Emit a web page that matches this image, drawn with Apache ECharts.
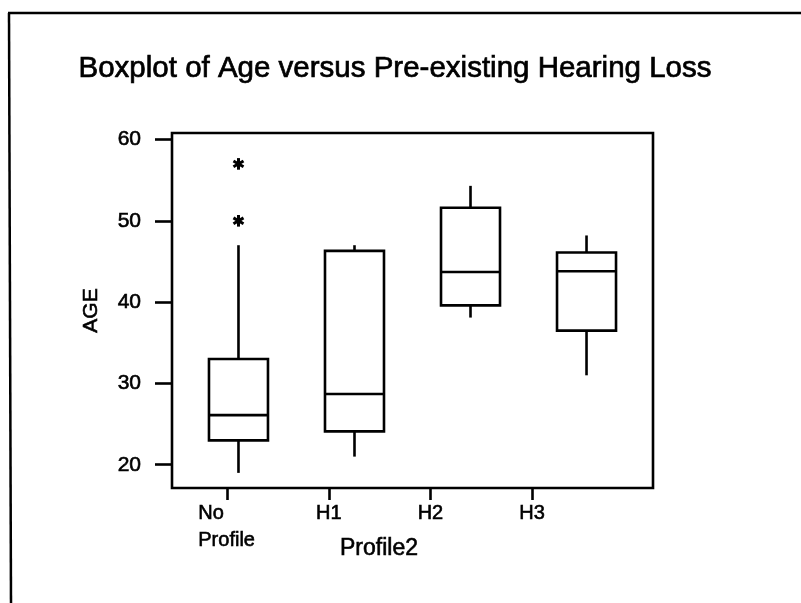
<!DOCTYPE html>
<html>
<head>
<meta charset="utf-8">
<script src="https://cdn.jsdelivr.net/npm/echarts@6/dist/echarts.min.js"></script>
<style>html,body{margin:0;padding:0;background:#fff;}#c{width:801px;height:603px;}</style>
</head>
<body>
<div id="c"></div>
<script>
// ---- data ----
var categories = ['No\nProfile', 'H1', 'H2', 'H3'];
var boxMin    = [19.0, 21.0, 38.1, 31.0];
var boxQ1     = [23.0, 24.1, 39.6, 36.5];
var boxMedian = [26.1, 28.7, 43.7, 43.8];
var boxQ3     = [33.0, 46.3, 51.6, 46.1];
var boxMax    = [47.0, 47.0, 54.3, 48.2];
var outlierCategory = [0, 0];
var outlierValue    = [50, 57];
var yTickValues = [20, 30, 40, 50, 60];
var xTickValues = [0, 1, 2, 3];

var FONT = "'Liberation Sans', Arial, sans-serif";
var LW = 2.6;

var boxData = categories.map(function (c, i) {
  return [i, boxMin[i], boxQ1[i], boxMedian[i], boxQ3[i], boxMax[i]];
});
var outlierData = outlierValue.map(function (v, i) { return [outlierCategory[i], v]; });

var chart = echarts.init(document.getElementById('c'), null, {renderer: 'canvas'});

function renderBox(params, api) {
  var x = api.value(0);
  var pMin = api.coord([x, api.value(1)]);
  var pQ1 = api.coord([x, api.value(2)]);
  var pMed = api.coord([x, api.value(3)]);
  var pQ3 = api.coord([x, api.value(4)]);
  var pMax = api.coord([x, api.value(5)]);
  var half = 29.5;
  var cx = pQ1[0];
  var st = {stroke: '#000', lineWidth: LW, fill: null};
  return {
    type: 'group',
    children: [
      {type: 'line', shape: {x1: cx, y1: pMax[1], x2: cx, y2: pQ3[1]}, style: st},
      {type: 'line', shape: {x1: cx, y1: pQ1[1], x2: cx, y2: pMin[1]}, style: st},
      {type: 'rect', shape: {x: cx - half, y: pQ3[1], width: half * 2, height: pQ1[1] - pQ3[1]}, style: {stroke: '#000', lineWidth: LW, fill: '#fff'}},
      {type: 'line', shape: {x1: cx - half, y1: pMed[1], x2: cx + half, y2: pMed[1]}, style: st}
    ]
  };
}

function renderStar(params, api) {
  var p = api.coord([api.value(0), api.value(1)]);
  var r = 5.8;
  var dx = r * Math.cos(Math.PI / 6), dy = r * Math.sin(Math.PI / 6);
  var st = {stroke: '#000', lineWidth: 3};
  return {
    type: 'group',
    children: [
      {type: 'line', shape: {x1: p[0], y1: p[1] - r, x2: p[0], y2: p[1] + r}, style: st},
      {type: 'line', shape: {x1: p[0] - dx, y1: p[1] - dy, x2: p[0] + dx, y2: p[1] + dy}, style: st},
      {type: 'line', shape: {x1: p[0] - dx, y1: p[1] + dy, x2: p[0] + dx, y2: p[1] - dy}, style: st}
    ]
  };
}

var txtHeavy = {textBorderColor: '#000', textBorderWidth: 0.6};

var option = {
  backgroundColor: '#fff',
  animation: false,
  title: {
    text: 'Boxplot of Age versus Pre-existing Hearing Loss',
    left: 390,
    textAlign: 'center',
    top: 49,
    textStyle: Object.assign({fontFamily: FONT, fontSize: 29.5, fontWeight: 'normal', color: '#000'}, {textBorderColor: '#000', textBorderWidth: 0.7})
  },
  graphic: [
    {type: 'line', shape: {x1: 8, y1: 13, x2: 801, y2: 13}, style: {stroke: '#000', lineWidth: 2.5}},
    {type: 'line', shape: {x1: 9, y1: 13, x2: 11, y2: 603}, style: {stroke: '#000', lineWidth: 2.5}}
  ],
  grid: {
    left: 172, top: 133, width: 481, height: 355,
    show: true, borderColor: '#000', borderWidth: LW, backgroundColor: 'transparent',
    containLabel: false
  },
  xAxis: [
    {
      type: 'value', position: 'bottom', min: -0.573, max: 3.573,
      show: false, splitLine: {show: false}, axisLine: {show: false, onZero: false}
    },
    {
      type: 'value', position: 'bottom', min: -0.544, max: 4.191,
      name: 'Profile2', nameLocation: 'middle', nameGap: 49, nameMoveOverlap: false,
      nameTextStyle: Object.assign({fontFamily: FONT, fontSize: 23, color: '#000', padding: [0, 67, 0, 0]}, txtHeavy),
      axisLine: {show: false, onZero: false},
      splitLine: {show: false},
      axisTick: {show: true, customValues: xTickValues, length: 12, lineStyle: {color: '#000', width: LW}},
      axisLabel: {
        customValues: xTickValues, margin: 12, color: '#000', fontFamily: FONT, fontSize: 20,
        formatter: function (v) {
          var s = categories[Math.round(v)];
          if (s === undefined) return '';
          var parts = s.split('\n');
          if (parts.length > 1) return parts.map(function (t) { return '{m|' + t + '}'; }).join('\n');
          return '{a|' + s + '}';
        },
        rich: {
          a: Object.assign({fontFamily: FONT, fontSize: 20, color: '#000', lineHeight: 27}, txtHeavy),
          m: Object.assign({fontFamily: FONT, fontSize: 20, color: '#000', lineHeight: 27, width: 58, align: 'left'}, txtHeavy)
        }
      }
    }
  ],
  yAxis: {
    type: 'value', min: 17.14, max: 60.8,
    name: 'AGE', nameLocation: 'middle', nameGap: 70, nameMoveOverlap: false,
    nameTextStyle: Object.assign({fontFamily: FONT, fontSize: 21, color: '#000'}, txtHeavy),
    axisLine: {show: false, onZero: false},
    splitLine: {show: false},
    axisTick: {show: true, customValues: yTickValues, length: 17, lineStyle: {color: '#000', width: LW}},
    axisLabel: Object.assign({customValues: yTickValues, margin: 31, color: '#000', fontFamily: FONT, fontSize: 21}, txtHeavy)
  },
  series: [
    {
      type: 'custom', name: 'AGE', xAxisIndex: 0, yAxisIndex: 0,
      renderItem: renderBox,
      encode: {x: 0, y: [1, 2, 3, 4, 5]},
      data: boxData
    },
    {
      type: 'custom', name: 'outliers', xAxisIndex: 0, yAxisIndex: 0,
      renderItem: renderStar,
      encode: {x: 0, y: 1},
      data: outlierData
    }
  ]
};
chart.setOption(option);
</script>
</body>
</html>
